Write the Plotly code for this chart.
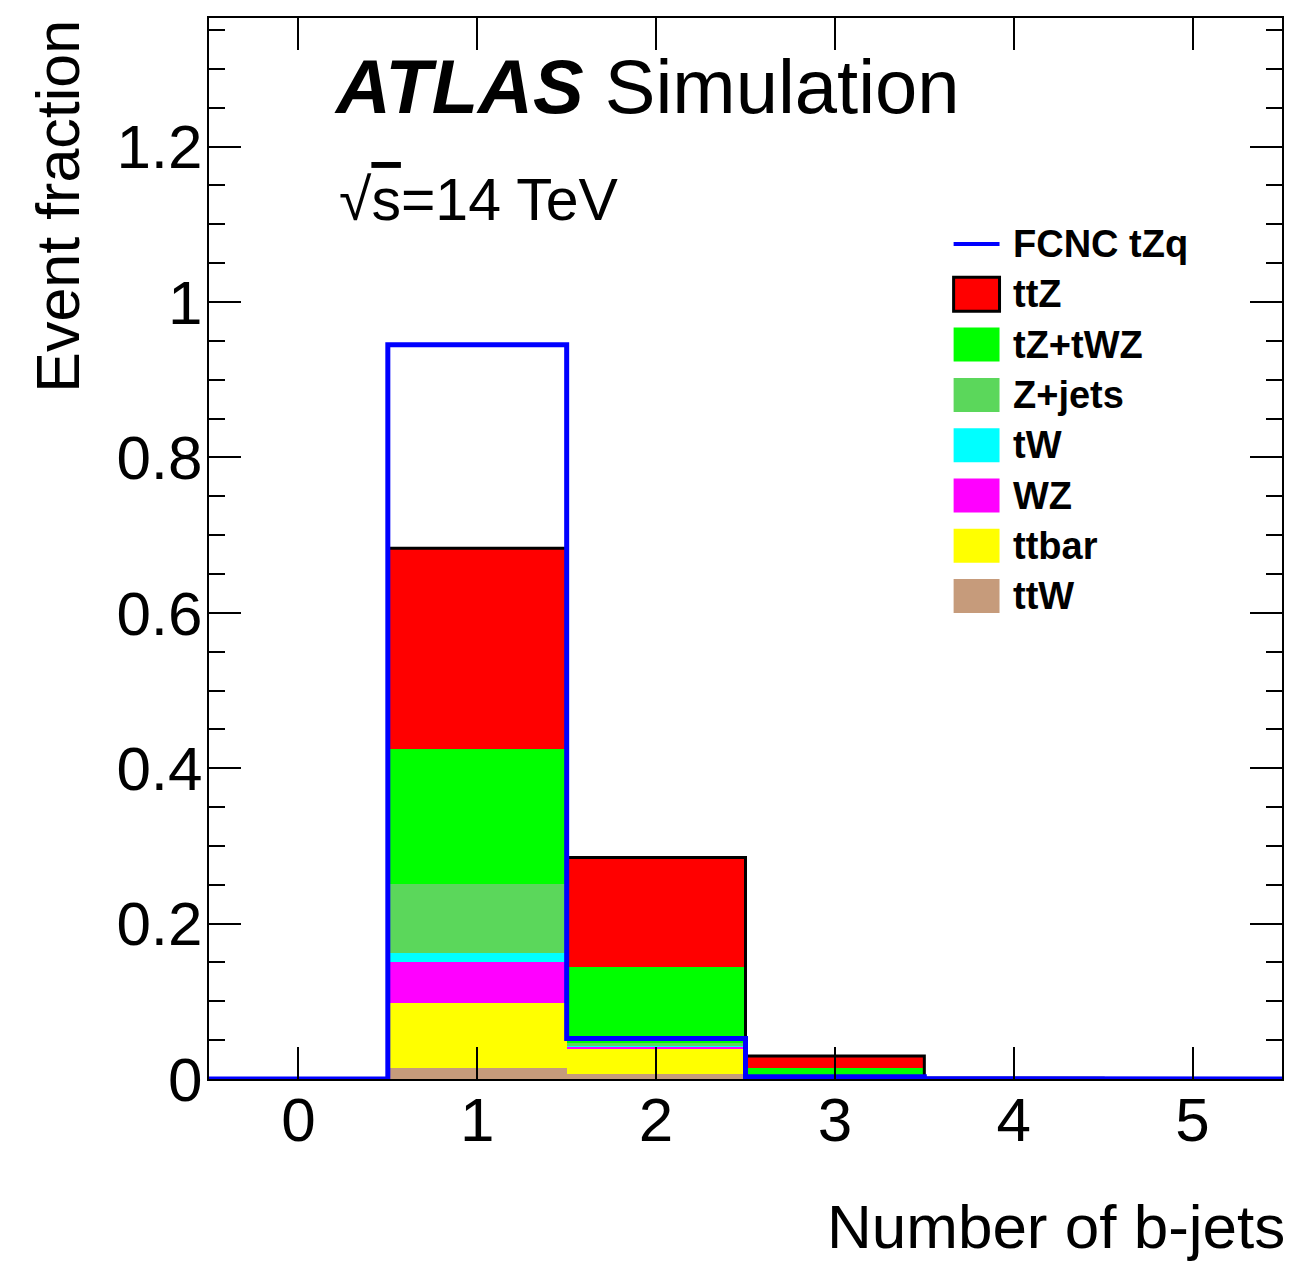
import plotly.graph_objects as go

# Number of b-jets bins and per-process event fractions (stacked, bottom to top)
bins = [0, 1, 2, 3, 4, 5]
ttW = [0.0, 0.014, 0.006, 0.001, 0.0, 0.0]
ttbar = [0.0, 0.084, 0.033, 0.001, 0.0, 0.0]
WZ = [0.0, 0.052, 0.0025, 0.0005, 0.0, 0.0]
tW = [0.0, 0.012, 0.0005, 0.0, 0.0, 0.0]
Zjets = [0.0, 0.089, 0.0045, 0.0005, 0.0, 0.0]
tZ_tWZ = [0.0, 0.174, 0.098, 0.011, 0.0003, 0.0]
ttZ = [0.0, 0.258, 0.1405, 0.0156, 0.0007, 0.0]
fcnc_tZq = [0.0, 0.945, 0.052, 0.003, 0.0005, 0.0]

stack_names = ["ttW", "ttbar", "WZ", "tW", "Z+jets", "tZ+tWZ", "ttZ"]
stack_values = [ttW, ttbar, WZ, tW, Zjets, tZ_tWZ, ttZ]
stack_colors = ["#C69B7B", "#FFFF00", "#FF00FF", "#00FFFF", "#5BD75B", "#00FF00", "#FF0000"]

legend_names = ["FCNC tZq", "ttZ", "tZ+tWZ", "Z+jets", "tW", "WZ", "ttbar", "ttW"]
legend_colors = ["#0000FF", "#FF0000", "#00FF00", "#5BD75B", "#00FFFF", "#FF00FF", "#FFFF00", "#C69B7B"]

y_ticks = [0, 0.2, 0.4, 0.6, 0.8, 1.0, 1.2]
y_tick_text = ["0", "0.2", "0.4", "0.6", "0.8", "1", "1.2"]

FONT = "Liberation Sans, Arial, Helvetica, sans-serif"

fig = go.Figure()

for name, vals, col in zip(stack_names, stack_values, stack_colors):
    fig.add_trace(go.Bar(
        x=bins, y=vals, width=1.0, name=name,
        marker=dict(color=col, line=dict(width=0)),
        showlegend=False,
    ))

# histogram step outlines: bin edges from the bin centres
edges = [b - 0.5 for b in bins] + [bins[-1] + 0.5]
totals = [sum(v[i] for v in stack_values) for i in range(len(bins))]


def step_xy(values):
    xs = [edges[0]]
    ys = [0.0]
    for i, v in enumerate(values):
        xs += [edges[i], edges[i + 1]]
        ys += [v, v]
    xs.append(edges[-1])
    ys.append(0.0)
    return xs, ys


sx, sy = step_xy(totals)
fig.add_trace(go.Scatter(x=sx, y=sy, mode="lines",
                         line=dict(color="black", width=3), showlegend=False))
fx, fy = step_xy(fcnc_tZq)
fig.add_trace(go.Scatter(x=fx, y=fy, mode="lines",
                         line=dict(color="#0000FF", width=5), showlegend=False))

axis_common = dict(
    showgrid=False, zeroline=False,
    showline=True, linecolor="black", linewidth=2,
    mirror="allticks", ticks="inside", tickcolor="black", tickwidth=2,
    ticklen=32,
    tickfont=dict(family=FONT, size=62, color="black"),
)

fig.update_xaxes(
    range=[-0.5, 5.5], tickmode="array", tickvals=bins,
    ticktext=[str(b) for b in bins], ticklabelstandoff=-14, **axis_common,
)
fig.update_yaxes(
    range=[0, 1.3655], tickmode="array", tickvals=y_ticks, ticktext=y_tick_text,
    ticklabelstandoff=-8,
    minor=dict(dtick=0.05, tick0=0, ticks="inside", ticklen=16,
               tickcolor="black", tickwidth=2, showgrid=False),
    **axis_common,
)

PL, PR, PT, PB = 209, 1284, 18, 1079
W, H = 1292, 1263


def px(x):
    return (x - PL) / (PR - PL)


def py(y):
    return (PB - y) / (PB - PT)


annotations = [
    dict(text="Number of b-jets", x=px(1289), y=py(1226), xanchor="right", yanchor="middle",
         font=dict(family=FONT, size=62, color="black")),
    dict(text="Event fraction", x=px(57), y=py(18), xanchor="center", yanchor="top",
         textangle=-90, font=dict(family=FONT, size=61, color="black")),
    dict(text="<b><i>ATLAS</i></b> Simulation", x=px(332), y=py(86), xanchor="left",
         yanchor="middle", font=dict(family=FONT, size=76, color="black")),
    dict(text="\u221a<span style='text-decoration:overline'>s</span>=14 TeV", x=px(337),
         y=py(200), xanchor="left", yanchor="middle",
         font=dict(family=FONT, size=59, color="black")),
]

shapes = []
leg_y0 = 244
leg_dy = 50.3
for i, (name, col) in enumerate(zip(legend_names, legend_colors)):
    yc = leg_y0 + i * leg_dy
    if i == 0:
        shapes.append(dict(type="line", xref="paper", yref="paper",
                           x0=px(955), x1=px(1001), y0=py(yc), y1=py(yc),
                           line=dict(color=col, width=4)))
    else:
        border = dict(color="black", width=3) if name == "ttZ" else dict(width=0)
        shapes.append(dict(type="rect", xref="paper", yref="paper",
                           x0=px(955), x1=px(1001), y0=py(yc + 17), y1=py(yc - 17),
                           fillcolor=col, line=border))
    annotations.append(dict(text="<b>%s</b>" % name, x=px(1012), y=py(yc), xanchor="left",
                            yanchor="middle",
                            font=dict(family=FONT, size=38, color="black")))

for a in annotations:
    a.update(xref="paper", yref="paper", showarrow=False)

fig.update_layout(
    width=W, height=H,
    margin=dict(l=PL, r=W - PR, t=PT, b=H - PB, pad=0),
    paper_bgcolor="white", plot_bgcolor="white",
    barmode="stack", bargap=0,
    showlegend=False,
    annotations=annotations, shapes=shapes,
)

fig.write_html("out.html")
